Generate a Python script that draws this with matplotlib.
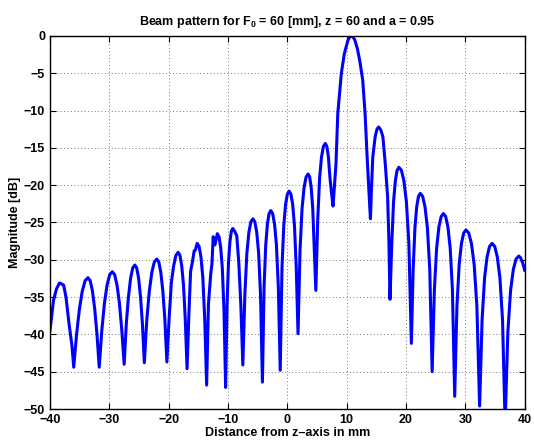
import numpy as np
import matplotlib
matplotlib.use("Agg")
import matplotlib.pyplot as plt

plt.rcParams['font.family'] = ['Liberation Sans', 'DejaVu Sans']
plt.rcParams['font.weight'] = 'bold'
plt.rcParams['mathtext.fontset'] = 'custom'
plt.rcParams['mathtext.rm'] = 'Liberation Sans:bold'
plt.rcParams['mathtext.default'] = 'rm'

# digitised beam pattern (distance in mm, magnitude in dB), one row per lobe
dist_mm = [
    -40.0, -39.4, -38.9, -38.4, -38.1, -37.7, -37.3, -36.8, -36.3, -36.0,
    -35.52, -35.04, -34.56, -34.08, -33.6, -33.22, -32.84, -32.46, -32.08, -31.7,
    -31.26, -30.82, -30.38, -29.94, -29.5, -29.1, -28.7, -28.3, -27.9, -27.5,
    -27.14, -26.78, -26.42, -26.06, -25.7, -25.38, -25.06, -24.74, -24.42, -24.1,
    -23.68, -23.26, -22.84, -22.42, -22.0, -21.66, -21.32, -20.98, -20.64, -20.3,
    -19.92, -19.54, -19.16, -18.78, -18.4, -18.1, -17.8, -17.5, -17.2, -16.9,
    -16.6, -16.3, -16.0, -15.7, -15.5, -15.2, -14.88, -14.56, -14.24, -13.92, -13.6,
    -13.3, -12.9, -12.7, -12.5, -12.2, -11.8, -11.52, -11.24, -10.96, -10.68, -10.4,
    -10.16, -9.92, -9.68, -9.44, -9.2, -8.86, -8.52, -8.18, -7.84, -7.5,
    -7.16, -6.82, -6.48, -6.14, -5.8, -5.48, -5.16, -4.84, -4.52, -4.2,
    -3.92, -3.64, -3.36, -3.08, -2.8, -2.48, -2.16, -1.84, -1.52, -1.2,
    -0.9, -0.6, -0.3, 0.0, 0.3, 0.6, 0.9, 1.2, 1.5, 1.8,
    2.14, 2.48, 2.82, 3.16, 3.5, 3.76, 4.02, 4.28, 4.54, 4.8,
    5.12, 5.44, 5.76, 6.08, 6.4, 6.66, 6.92, 7.18, 7.44, 7.7,
    8.2, 8.5, 9.1, 9.6, 10.2, 10.5, 10.8, 11.1, 11.4, 11.8, 12.2, 12.7, 13.1, 13.5, 14.0,
    14.2, 14.4, 14.8, 15.1, 15.4, 15.75, 16.1, 16.5, 16.9, 17.1, 17.3,
    17.6, 17.9, 18.2, 18.5, 18.8, 19.22, 19.64, 20.06, 20.48, 20.9,
    21.2, 21.5, 21.8, 22.1, 22.4, 22.8, 23.2, 23.6, 24.0, 24.4,
    24.78, 25.16, 25.54, 25.92, 26.3, 26.68, 27.06, 27.44, 27.82, 28.2,
    28.58, 28.96, 29.34, 29.72, 30.1, 30.56, 31.02, 31.48, 31.94, 32.4,
    32.82, 33.24, 33.66, 34.08, 34.5, 34.94, 35.38, 35.82, 36.26, 36.7,
    37.16, 37.62, 38.08, 38.54, 39.0, 39.3, 39.65, 40.0,
]
magnitude_db = [
    -39.5, -35.4, -33.9, -33.1, -33.2, -33.4, -35.0, -38.5, -41.5, -44.4,
    -40.0, -36.6, -34.2, -32.8, -32.4, -32.8, -34.2, -36.6, -40.0, -44.4,
    -39.4, -35.8, -33.4, -32.0, -31.6, -32.0, -33.4, -35.8, -39.4, -44.0,
    -38.6, -35.0, -32.5, -31.1, -30.7, -31.1, -32.5, -35.0, -38.6, -43.8,
    -38.0, -34.2, -31.7, -30.3, -29.9, -30.3, -31.7, -34.2, -38.0, -43.7,
    -37.8, -33.0, -30.8, -29.4, -29.0, -29.4, -30.8, -33.4, -38.0, -44.6,
    -37.5, -31.5, -30.3, -28.8, -28.7, -27.8, -28.2, -29.6, -32.4, -38.0, -46.8,
    -36.0, -31.8, -30.5, -26.9, -28.0, -26.5, -26.9, -28.3, -31.1, -36.7, -47.1,
    -36.0, -30.4, -27.6, -26.2, -25.8, -26.2, -26.8, -30.4, -36.0, -44.1,
    -34.7, -29.1, -26.3, -24.9, -24.5, -24.9, -26.3, -29.1, -34.7, -46.4,
    -33.6, -28.0, -25.2, -23.8, -23.4, -23.8, -25.2, -28.0, -33.6, -44.8,
    -31.0, -25.4, -22.6, -21.2, -20.8, -21.2, -22.6, -25.4, -31.0, -39.9,
    -28.7, -23.1, -20.3, -18.9, -18.5, -18.9, -20.3, -23.1, -28.7, -34.1,
    -24.6, -19.0, -16.2, -14.8, -14.4, -14.8, -16.2, -19.0, -21.0, -22.8,
    -17.1, -10.4, -5.0, -2.4, -0.6, -0.15, 0.0, -0.15, -0.6, -1.7, -3.3, -5.9, -10.4, -17.1, -24.5,
    -20.0, -16.2, -13.5, -12.5, -12.2, -12.6, -13.5, -17.1, -21.6, -27.0, -35.3,
    -27.8, -22.2, -19.4, -18.0, -17.6, -18.0, -19.4, -22.2, -27.8, -41.2,
    -31.3, -25.7, -22.9, -21.5, -21.1, -21.5, -22.9, -25.7, -31.3, -45.0,
    -34.0, -28.4, -25.6, -24.2, -23.8, -24.2, -25.6, -28.4, -34.0, -48.3,
    -36.2, -30.6, -27.8, -26.4, -26.0, -26.4, -27.8, -30.6, -36.2, -49.6,
    -38.0, -32.4, -29.6, -28.2, -27.8, -28.2, -29.6, -32.4, -38.0, -52.0,
    -39.7, -34.1, -31.3, -29.9, -29.5, -29.7, -30.4, -31.4,
]

x_ticks = [-40, -30, -20, -10, 0, 10, 20, 30, 40]
y_ticks = [0, -5, -10, -15, -20, -25, -30, -35, -40, -45, -50]

fig = plt.figure(figsize=(5.34, 4.47), dpi=100)
ax = fig.add_axes([0.0936, 0.085, 0.889, 0.8345])

ax.plot(dist_mm, magnitude_db, color='#0000ff', linewidth=2.2,
        solid_joinstyle='round')

ax.set_xlim(-40, 40)
ax.set_ylim(-50, 0)
ax.set_xticks(x_ticks)
ax.set_yticks(y_ticks)
ax.tick_params(direction='in', top=True, right=True, length=4, labelsize=9)
for lab in ax.get_xticklabels() + ax.get_yticklabels():
    lab.set_fontweight('bold')
ax.grid(True, linestyle=(0, (1, 2.5)), color='#777777', linewidth=0.7)
for s in ax.spines.values():
    s.set_linewidth(1.0)

ax.set_title('Beam pattern for F$_0$ = 60 [mm], z = 60 and a = 0.95',
             fontsize=9, fontweight='bold', pad=8)
ax.set_xlabel('Distance from z\u2013axis in mm', fontsize=9, fontweight='bold', labelpad=1)
ax.set_ylabel('Magnitude [dB]', fontsize=9, fontweight='bold', labelpad=2)

fig.savefig('out.png', dpi=100)
